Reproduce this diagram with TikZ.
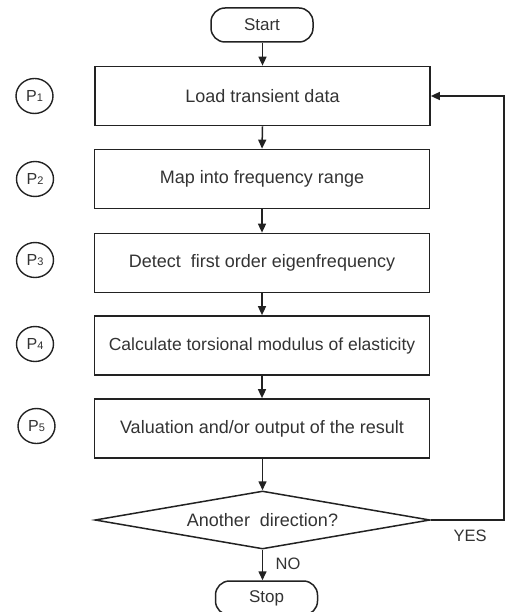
\documentclass[tikz,border=0pt]{standalone}
\usepackage{fontspec}
\setmainfont{Liberation Sans}
\usetikzlibrary{shapes.geometric,arrows.meta}
\definecolor{ink}{HTML}{222222}
\definecolor{txt}{HTML}{333333}
\begin{document}
\begin{tikzpicture}[x=1pt,y=-1pt,
  every node/.style={text=txt,font=\fontsize{18}{20}\selectfont},
  proc/.style={draw=ink,line width=1.7pt,minimum width=335pt,minimum height=59pt,inner sep=0pt},
  term/.style={draw=ink,line width=1.5pt,rounded corners=14pt,minimum width=102pt,minimum height=34pt,inner sep=0pt,font=\fontsize{17}{19}\selectfont},
  decision/.style={diamond,draw=ink,line width=1.5pt,aspect=5.8,minimum width=335pt,minimum height=58pt,inner sep=0pt},
  pmark/.style={ellipse,draw=ink,line width=1.4pt,minimum width=37pt,minimum height=35pt,inner sep=0pt,font=\fontsize{16}{18}\selectfont},
  flow/.style={draw=ink,line width=1.5pt,-{Triangle[length=9pt,width=8pt]}},
  lbl/.style={font=\fontsize{16.5}{18}\selectfont,inner sep=0pt}]
\useasboundingbox (0,0) rectangle (504,612);
\newcommand{\pidx}[1]{P{\fontsize{11}{12}\selectfont #1}}

% terminals, process steps and decision
\node[term] (start) at (262,25) {Start};
\node[proc] (s1) at (262.5,96) {Load transient data};
\node[proc] (s2) at (262,179) {Map into frequency range};
\node[proc] (s3) at (262,263) {Detect\ \ first order eigenfrequency};
\node[proc] (s4) at (262,345.5) {\fontsize{17.5}{20}\selectfont Calculate torsional modulus of elasticity};
\node[proc] (s5) at (262,428.5) {Valuation and/or output of the result};
\node[decision] (dec) at (262.5,520) {Another\ \ direction?};
\node[term] (stop) at (266.5,598) {Stop};

% step markers
\node[pmark] (m1) at (34.5,96)  {\pidx{1}};
\node[pmark] (m2) at (35,179)   {\pidx{2}};
\node[pmark] (m3) at (35,260)   {\pidx{3}};
\node[pmark] (m4) at (35,344)   {\pidx{4}};
\node[pmark] (m5) at (36.5,426) {\pidx{5}};

% main flow
\draw[flow] (start.south -| s1.north) -- (s1.north);
\draw[flow] (s1.south) -- (s2.north);
\draw[flow] (s2.south) -- (s3.north);
\draw[flow] (s3.south) -- (s4.north);
\draw[flow] (s4.south) -- (s5.north);
\draw[flow] (s5.south -| dec.north) -- (dec.north);
\draw[flow] (dec.south) -- (dec.south |- stop.north);

% loop back to the first step, running along the right edge
\coordinate (r1) at (503.8,520);
\coordinate (r2) at (503.8,96);
\draw[flow] (dec.east) -- (r1) -- (r2) -- (s1.east);

% branch labels
\node[lbl] (yes) at (470,536) {YES};
\node[lbl] (no) at (288,564) {NO};
\end{tikzpicture}
\end{document}
